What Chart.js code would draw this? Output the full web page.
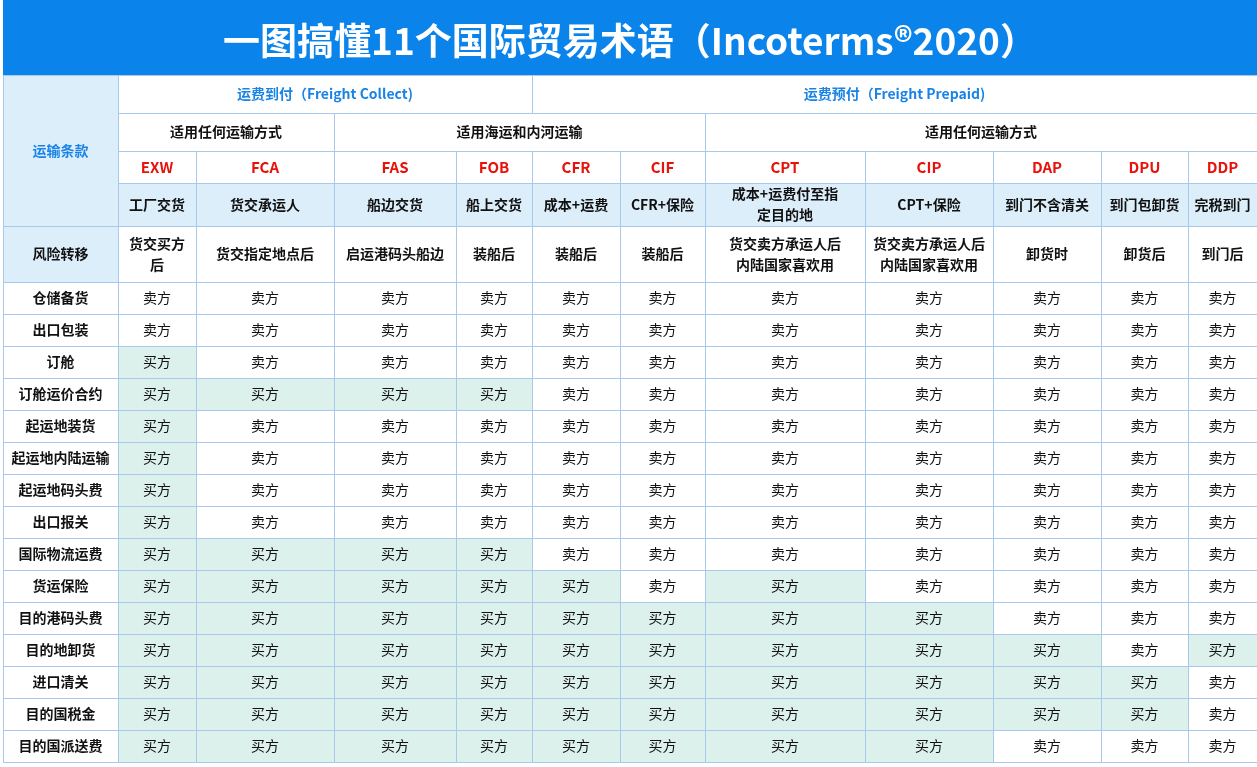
<!DOCTYPE html>
<html><head><meta charset="utf-8">
<script src="https://cdn.jsdelivr.net/npm/chart.js@4"></script>
<style>html,body{margin:0;padding:0;background:#fff}#wrap{width:1257px;height:767px}</style>
</head><body><div id="wrap"><canvas id="c"></canvas></div>
<script>
const title = "一图搞懂11个国际贸易术语（Incoterms®2020）";
const codes = ["EXW","FCA","FAS","FOB","CFR","CIF","CPT","CIP","DAP","DPU","DDP"];
const names = ["工厂交货","货交承运人","船边交货","船上交货","成本+运费","CFR+保险","成本+运费付至指\n定目的地","CPT+保险","到门不含清关","到门包卸货","完税到门"];
const risks = ["货交买方\n后","货交指定地点后","启运港码头船边","装船后","装船后","装船后","货交卖方承运人后\n内陆国家喜欢用","货交卖方承运人后\n内陆国家喜欢用","卸货时","卸货后","到门后"];
const items = ["仓储备货","出口包装","订舱","订舱运价合约","起运地装货","起运地内陆运输","起运地码头费","出口报关","国际物流运费","货运保险","目的港码头费","目的地卸货","进口清关","目的国税金","目的国派送费"];
// S = 卖方, B = 买方, one letter per term
const parties = [
  "SSSSSSSSSSS",
  "SSSSSSSSSSS",
  "BSSSSSSSSSS",
  "BBBBSSSSSSS",
  "BSSSSSSSSSS",
  "BSSSSSSSSSS",
  "BSSSSSSSSSS",
  "BSSSSSSSSSS",
  "BBBBSSSSSSS",
  "BBBBBSBSSSS",
  "BBBBBBBBSSS",
  "BBBBBBBBBSB",
  "BBBBBBBBBBS",
  "BBBBBBBBBBS",
  "BBBBBBBBSSS"
];

// layout (pixel units of the scales)
const colEdges = [3,118,196,334,456,532,620,705,865,993,1101,1188,1257];
const headEdges = [75,113,151,183,226,282];
const rowH = 32;

const FONT = '"Noto Sans CJK SC","Noto Sans",sans-serif';
const BORDER = '#a8c8ec', LIGHT = '#ddeefb', GREEN = '#dcf1ec';

const tablePlugin = {
  id: 'table',
  afterDraw(chart) {
    const ctx = chart.ctx, xs = chart.scales.x, ys = chart.scales.y;
    const X = v => xs.getPixelForValue(v), Y = v => ys.getPixelForValue(v);
    function cell(x0, x1, y0, y1, text, bg, color, font) {
      const a = X(x0), b = X(x1), c = Y(y0), d = Y(y1);
      ctx.fillStyle = bg; ctx.fillRect(a, c, b - a, d - c);
      ctx.strokeStyle = BORDER; ctx.lineWidth = 1;
      ctx.strokeRect(Math.round(a) + 0.5, Math.round(c) + 0.5, b - a, d - c);
      if (!text) return;
      ctx.fillStyle = color; ctx.font = font || 'bold 14px ' + FONT;
      ctx.textAlign = 'center'; ctx.textBaseline = 'middle';
      const lines = text.split('\n'), lh = 21;
      lines.forEach((t, i) => ctx.fillText(t, (a + b) / 2, (c + d) / 2 + (i - (lines.length - 1) / 2) * lh));
    }
    // title
    ctx.fillStyle = '#0a84ea';
    ctx.fillRect(X(3), Y(0), X(1257) - X(3), Y(75) - Y(0));
    ctx.fillStyle = '#fff'; ctx.font = 'bold 37px ' + FONT;
    ctx.textAlign = 'center'; ctx.textBaseline = 'middle';
    ctx.fillText(title, X(630), Y(41));
    const E = colEdges, H = headEdges;
    cell(E[0], E[1], H[0], H[4], "运输条款", LIGHT, '#1a84e6');
    cell(E[1], E[5], H[0], H[1], "运费到付（Freight Collect)", '#fff', '#1a84e6');
    cell(E[5], E[12], H[0], H[1], "运费预付（Freight Prepaid)", '#fff', '#1a84e6');
    cell(E[1], E[3], H[1], H[2], "适用任何运输方式", '#fff', '#111');
    cell(E[3], E[7], H[1], H[2], "适用海运和内河运输", '#fff', '#111');
    cell(E[7], E[12], H[1], H[2], "适用任何运输方式", '#fff', '#111');
    codes.forEach((t, i) => cell(E[i+1], E[i+2], H[2], H[3], t, '#fff', '#e8120c', 'bold 15px ' + FONT));
    names.forEach((t, i) => cell(E[i+1], E[i+2], H[3], H[4], t, LIGHT, '#111'));
    cell(E[0], E[1], H[4], H[5], "风险转移", LIGHT, '#111');
    risks.forEach((t, i) => cell(E[i+1], E[i+2], H[4], H[5], t, '#fff', '#111'));
    items.forEach((t, r) => {
      const y0 = H[5] + r * rowH, y1 = y0 + rowH;
      cell(E[0], E[1], y0, y1, t, '#fff', '#111');
      parties[r].split('').forEach((p, i) => {
        const buyer = p === 'B';
        cell(E[i+1], E[i+2], y0, y1, buyer ? '买方' : '卖方', buyer ? GREEN : '#fff', '#111', '14px ' + FONT);
      });
    });
  }
};

new Chart(document.getElementById('c'), {
  type: 'scatter',
  data: { datasets: [{ data: [] }] },
  options: {
    responsive: true, maintainAspectRatio: false, animation: false,
    layout: { padding: 0 },
    plugins: { legend: { display: false }, tooltip: { enabled: false } },
    scales: {
      x: { type: 'linear', min: 0, max: 1257, display: false },
      y: { type: 'linear', min: 0, max: 767, reverse: true, display: false }
    }
  },
  plugins: [tablePlugin]
});
</script></body></html>
